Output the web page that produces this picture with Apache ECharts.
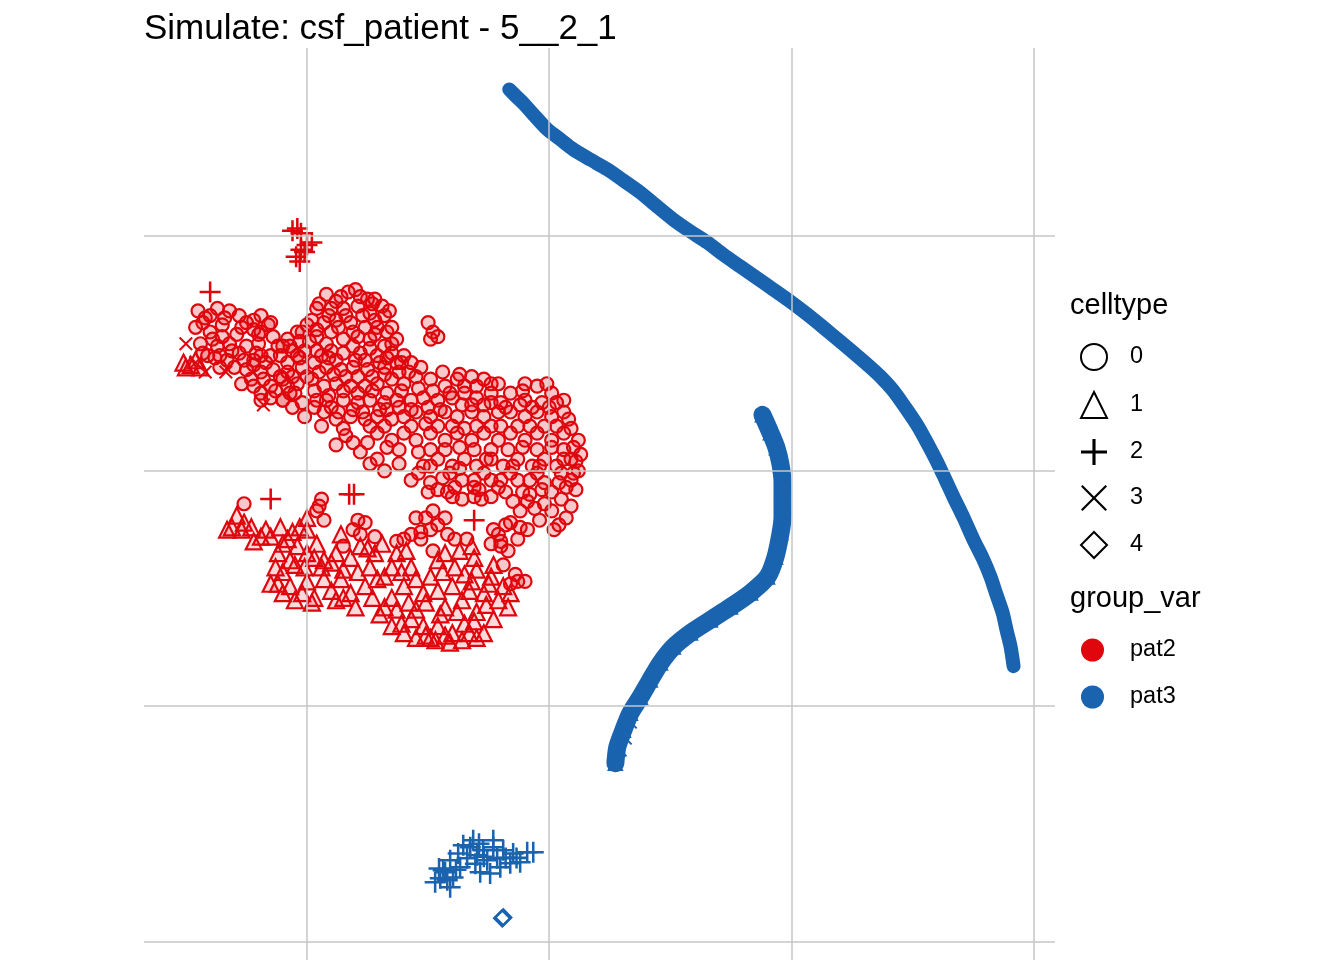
<!DOCTYPE html>
<html>
<head>
<meta charset="utf-8">
<title>csf_patient</title>
<script src="https://cdn.jsdelivr.net/npm/echarts@6/dist/echarts.min.js"></script>
<style>
  html, body { margin: 0; padding: 0; background: #fff; }
  #chart { width: 1344px; height: 960px; }
</style>
</head>
<body>
<div id="chart"></div>
<script>
// gridline positions (axis text is blank in the original)
var xGridLines = [0, 10, 20, 30]
var yGridLines = [0, 10, 20, 30]

var celltypes = ['0', '1', '2', '3', '4']
var groups = ['pat2', 'pat3']

// pat2, celltype 0 (open circles)
var pat2_type0 = [
  [-4.5,26.8],[-4.3,26.3],[-3.7,26.9],[-3.2,26.8],[-2.8,26.6],[-2.5,26.3],[-1.9,26.6],[-1.5,26.3],[-1.9,25.9],[-1.4,25.7],
  [-4.0,25.9],[-3.5,25.7],[-2.9,25.8],[-4.4,25.4],[-3.7,25.3],[-3.1,25.1],[-2.5,25.3],[-2.1,25.0],[-4.1,24.9],[-3.3,24.7],
  [-2.6,24.7],[-1.9,24.9],[-1.7,24.6],[-1.1,24.9],[-1.2,25.3],[-0.8,25.6],[-0.4,25.9],[-0.6,25.1],[-2.5,24.3],[-1.9,24.2],
  [-2.7,23.7],[-1.8,23.9],[-1.5,23.6],[-1.1,24.0],[-0.8,23.6],[-1.0,23.0],[-0.6,22.7],[-1.5,23.1],[-1.9,23.3],[-1.9,23.0],
  [-4.6,26.1],[-1.6,26.2],[-2.0,25.8],[-3.5,26.2],[-4.0,26.6],[-2.2,26.0],[-3.0,24.4],[-2.2,24.5],[-3.6,24.9],[-2.3,23.9],
  [-4.2,26.5],[-3.4,26.5],[-2.7,26.1],[-2.2,26.4],[-3.9,25.6],[-3.2,25.4],[-2.8,25.0],[-2.0,25.4],[-3.8,24.8],[-2.2,24.7],
  [-1.5,24.9],[-1.4,24.3],[-0.8,24.2],[-2.2,23.6],[-1.3,23.4],[-0.7,23.3],[-0.4,24.9],[-0.3,25.5],[-1.0,25.3],[-4.3,25.0],[-3.6,24.4],
  [0.8,27.5],[1.2,27.2],[1.7,27.6],[2.2,27.4],[2.8,27.3],[3.1,27.0],[0.4,26.9],[1.0,26.9],[1.5,26.9],[2.1,27.0],
  [2.6,26.7],[3.2,26.6],[0.2,26.4],[0.7,26.3],[1.2,26.4],[1.8,26.3],[2.4,26.1],[2.9,26.1],[3.5,26.1],[-0.2,25.9],
  [0.4,25.7],[1.0,25.9],[1.5,25.6],[2.1,25.7],[2.6,25.6],[3.2,25.3],[3.7,25.6],[-0.7,25.3],[-0.1,25.1],[0.4,25.1],
  [1.0,25.1],[1.5,25.0],[2.2,25.0],[2.9,24.9],[3.5,25.0],[4.0,24.9],[-0.8,24.6],[-0.2,24.4],[0.3,24.6],[0.8,24.4],
  [1.4,24.3],[1.9,24.4],[2.5,24.3],[3.2,24.4],[3.7,24.6],[4.3,24.6],[4.7,24.4],[-1.0,23.9],[-0.4,23.7],[0.2,23.9],
  [0.7,23.6],[1.2,23.7],[1.8,23.6],[2.4,23.6],[2.9,23.7],[3.5,23.9],[4.0,23.7],[4.5,24.0],[5.1,23.9],[5.7,23.6],
  [6.2,23.9],[6.8,24.0],[7.3,23.9],[-1.0,23.0],[-0.2,22.9],[0.4,23.0],[1.0,22.7],[1.5,23.0],[2.1,22.9],[2.6,23.0],
  [3.2,22.9],[3.7,23.0],[4.3,23.0],[4.8,23.1],[5.4,23.0],[6.0,23.1],[6.5,23.3],[7.0,23.1],[7.6,23.3],[9.0,23.7],
  [9.5,23.6],[10.1,23.3],[8.4,23.3],[9.0,23.0],[9.7,22.9],[10.3,22.9],[5.0,26.3],[5.2,25.9],[5.1,25.6],[5.4,25.7],
  [0.0,26.2],[1.6,26.6],[2.7,27.1],[0.9,24.8],[2.0,24.7],[3.0,24.6],[4.2,24.2],[0.0,24.0],[1.6,24.0],[2.7,24.0],
  [3.8,24.2],[5.6,24.2],[6.5,23.6],[7.9,23.7],[8.0,22.9],[1.9,22.6],[3.0,22.6],[5.0,22.7],[6.4,22.8],[7.3,22.8],[0.3,22.7],
  [0.5,27.1],[1.4,27.4],[2.0,27.7],[2.5,27.3],[3.4,26.8],[0.9,26.6],[2.3,26.6],[2.8,26.4],[0.4,26.0],[1.3,26.1],
  [1.9,25.9],[2.8,25.8],[3.3,25.9],[0.1,25.5],[0.8,25.4],[1.9,25.3],[2.6,25.2],[3.5,25.4],[-0.3,24.8],[0.6,24.9],
  [1.2,24.7],[2.4,24.7],[3.3,24.8],[3.9,24.6],[0.5,24.2],[1.1,24.1],[2.1,24.0],[3.2,24.1],[-0.6,24.0],[-0.5,23.3],
  [0.3,23.4],[0.9,23.2],[1.5,23.4],[2.1,23.3],[2.7,23.4],[3.3,23.3],[3.9,23.4],[4.6,23.5],[5.2,23.4],[5.9,23.3],
  [6.3,24.1],[7.0,23.6],[7.6,23.7],[8.9,23.4],[9.9,23.7],[10.6,23.0],[8.8,22.8],[0.8,23.0],[1.3,22.5],[2.3,22.5],
  [3.3,22.6],[4.3,22.6],[5.5,22.6],[6.8,22.8],[7.6,22.9],[8.2,22.7],[9.3,22.7],[10.0,22.7],[10.8,22.2],
  [-0.1,22.3],[0.7,22.5],[1.2,22.2],[1.8,22.3],[2.4,22.2],[2.9,22.3],[3.5,22.2],[4.0,22.3],[4.5,22.5],[5.1,22.3],
  [5.7,22.5],[6.2,22.3],[6.8,22.5],[7.3,22.3],[7.9,22.5],[8.4,22.5],[9.0,22.3],[9.5,22.5],[10.1,22.3],[10.6,22.5],
  [0.6,21.9],[1.2,21.1],[2.9,21.6],[3.5,21.3],[4.0,21.6],[4.5,21.3],[5.1,21.6],[5.7,21.3],[6.2,21.6],[6.8,21.3],
  [7.3,21.6],[7.9,21.3],[8.4,21.6],[9.0,21.3],[9.5,21.6],[10.1,21.3],[10.6,21.6],[11.0,21.0],[1.9,21.2],[2.2,20.8],
  [2.9,20.5],[3.2,20.0],[4.3,19.6],[4.8,20.2],[5.4,20.5],[6.0,20.2],[6.5,20.5],[7.0,20.2],[7.6,20.5],[8.1,20.2],
  [8.7,20.5],[9.3,20.2],[9.8,20.5],[10.3,20.2],[10.9,20.5],[5.1,19.5],[6.4,19.6],[7.6,19.6],[8.7,19.6],[9.8,19.5],
  [10.9,19.6],[5.0,19.1],[6.4,18.8],[7.6,18.9],[8.8,18.3],[10.2,17.5],[10.7,18.0],[9.8,18.6],[10.5,18.8],[11.1,19.2],
  [9.6,17.9],[7.1,19.2],[5.8,19.1],[11.3,20.7],[11.2,20.0],
  [3.8,22.7],[4.9,22.0],[6.0,21.9],[7.0,21.9],[8.0,21.9],[9.2,21.9],[10.3,21.9],[3.3,21.0],[4.6,20.8],[5.7,20.9],
  [6.9,20.9],[8.3,20.9],[9.5,20.9],[10.6,20.9],[5.9,19.9],[7.3,19.9],[8.4,19.9],[9.5,19.9],[10.5,19.9],[8.2,19.1],
  [9.2,19.0],[10.1,19.1],[9.1,18.7],[6.9,18.9],
  [1.5,21.8],[2.6,21.9],[3.2,21.9],[4.3,21.9],[5.4,21.9],[6.5,21.8],[7.6,21.9],[8.7,21.9],[9.8,21.9],[10.9,21.8],
  [1.6,21.5],[2.5,21.2],[3.8,20.9],[5.1,20.9],[6.3,21.0],[7.6,20.9],[8.9,21.0],[10.1,21.0],[11.2,21.3],[2.6,20.3],
  [3.8,20.3],[5.1,20.2],[6.3,20.1],[7.4,20.5],[8.5,20.2],[9.6,20.2],[10.6,20.5],[11.1,20.4],[4.6,19.9],[5.6,19.7],
  [6.9,19.6],[8.0,19.6],[9.2,19.6],[10.4,19.5],[11.0,19.9],[5.4,19.2],[6.1,19.3],[6.9,19.3],[7.9,19.3],[8.9,19.1],
  [9.7,19.2],[10.7,19.3],[8.5,18.7],[9.4,18.4],[10.1,18.3],[10.4,17.7],[10.9,18.5],[6.0,18.9],[7.2,18.8],
  [-2.6,18.6],[0.6,18.8],[0.4,18.3],[0.7,17.9],[2.4,17.8],[1.9,17.5],[2.8,17.2],[1.5,16.8],[4.5,18.0],[5.2,18.3],
  [5.7,18.0],[5.1,17.5],[4.7,17.4],[4.0,17.1],[6.1,17.1],[6.6,17.1],[7.7,17.5],[8.4,17.8],[9.1,17.5],[8.7,17.1],
  [8.0,16.8],[7.6,16.9],[8.1,16.0],[8.6,15.6],[9.0,15.3],[8.4,15.2],[4.7,17.1],[5.2,16.6],
  [0.5,18.5],[2.1,17.9],[2.2,17.3],[4.9,18.0],[5.4,17.7],[4.3,17.3],[5.8,17.3],[7.9,17.3],[8.2,17.7],[8.8,17.6],
  [8.3,16.6],[8.0,17.0],[8.7,15.3],[3.7,17.0]
]

// pat2, celltype 1 (open triangles)
var pat2_type1 = [
  [-3.1,17.6],[-2.6,17.8],[-2.7,17.5],[-2.3,17.6],[-1.9,17.2],[-1.5,17.2],[-1.1,17.6],[-0.8,17.1],[-0.4,16.8],[-1.2,16.5],
  [-0.7,16.2],[0.0,17.5],[0.0,18.0],[0.4,16.9],[0.3,16.3],[-0.1,15.9],[-1.0,15.7],[-1.2,15.2],[-0.7,15.1],[-0.2,14.8],
  [0.3,14.6],[0.7,15.4],[1.0,16.1],[0.7,16.2],[1.5,15.8],[1.8,16.3],[2.2,16.8],[2.8,16.5],[2.1,15.7],[1.5,14.6],
  [2.4,15.1],[2.9,15.4],[3.5,15.9],[3.7,16.5],[4.1,16.6],[4.3,15.9],[4.0,15.1],[3.5,14.6],[3.2,14.2],[3.7,14.1],
  [4.3,13.7],[3.5,13.4],[4.0,13.1],[4.8,13.4],[4.5,14.1],[4.8,14.8],[5.1,15.5],[5.4,16.2],[5.7,16.5],[6.1,15.9],
  [6.0,15.1],[5.7,14.2],[5.4,13.4],[6.0,13.1],[6.5,13.5],[6.4,14.5],[6.8,15.3],[6.9,16.3],[6.8,16.8],[7.0,15.8],
  [7.3,14.8],[7.0,14.0],[7.7,13.7],[7.9,14.5],[8.1,15.1],[7.6,15.5],[8.3,14.2],[5.1,12.9],[6.4,12.8],[7.3,13.1],
  [-1.5,15.2],[-1.0,14.8],[-0.5,14.5],[0.2,14.4],[1.2,14.5],[1.8,14.8],[-3.3,17.5],[-2.9,18.1],[1.4,17.3],
  [2.6,15.9],[3.1,16.9],[4.5,12.9],[3.0,13.9],[5.9,12.7],[6.7,13.1],[2.0,14.2],[1.0,14.9],[-2.2,17.0],[-0.3,17.6],
  [-1.7,17.5],[-0.6,17.4],[-1.0,16.9],[0.0,16.5],[-0.5,16.0],[-1.3,15.9],[0.0,15.3],[0.6,15.9],[1.2,16.5],[1.4,15.4],
  [2.5,16.7],[3.2,15.5],[2.7,14.6],[3.9,15.7],[4.5,15.4],[4.2,14.4],[3.9,13.5],[4.9,14.4],[5.4,14.9],[5.6,15.7],
  [6.3,16.6],[6.5,15.6],[6.7,14.9],[6.2,14.0],[5.5,13.9],[4.9,13.0],[5.7,13.0],[6.9,13.6],[7.4,14.3],[7.5,15.2],
  [7.7,16.0],[8.4,14.8],[7.0,12.9],[5.3,12.8],
  [-5.1,24.6],[-4.8,24.5],[-4.6,24.7],[-5.0,24.4],[-4.4,24.4]
]

// pat2, celltype 2 (plus)
var pat2_type2 = [
  [-0.4,30.3],[-0.25,30.1],[0.0,29.6],[-0.25,29.4],[-0.45,29.1],[-0.1,29.3],[-0.6,30.2],[0.2,29.7],[-0.3,28.9],
  [-4.0,27.6],[-1.5,18.8],[1.74,19.0],[1.94,19.0],[6.9,17.9]
]

// pat2, celltype 3 (cross)
var pat2_type3 = [[-5.0,25.4],[-4.2,24.2],[-1.8,22.8],[-3.35,24.2],[-4.6,24.6]]

// pat3, celltype 0: the long trajectory
var pat3_type0 = [
  [8.35,36.21],[8.64,35.91],[8.93,35.62],[9.42,35.06],[9.92,34.51],[10.45,34.09],[10.99,33.66],[11.69,33.23],[12.40,32.81],[13.06,32.34],
  [13.76,31.83],[14.46,31.23],[15.12,30.68],[15.83,30.17],[16.53,29.70],[17.19,29.19],[17.89,28.68],[18.60,28.17],[19.26,27.70],[19.96,27.19],
  [20.66,26.64],[21.32,26.09],[22.02,25.49],[22.56,25.02],[23.14,24.51],[23.68,24.00],[24.21,23.40],[24.71,22.68],[25.21,21.91],[25.62,21.15],
  [26.03,20.34],[26.36,19.62],[26.69,18.89],[27.11,18.00],[27.52,17.06],[27.89,16.30],[28.22,15.49],[28.47,14.72],[28.72,13.96],[28.88,13.23],
  [29.05,12.51],[29.17,11.70]
]

// pat3, celltype 1: the S-shaped trajectory
var pat3_type1 = [
  [18.80,22.38],[19.13,21.62],[19.38,20.98],[19.55,20.26],[19.63,19.49],[19.63,18.77],[19.63,18.04],[19.55,17.36],[19.34,16.34],[19.01,15.49],
  [18.31,14.81],[17.48,14.21],[16.65,13.66],[15.83,13.11],[15.12,12.51],[14.59,11.83],[14.17,11.11],[13.76,10.38],[13.35,9.70],[13.06,8.98],
  [12.81,8.26],[12.73,7.57]
]

// pat3, celltype 2 (plus)
var pat3_type2 = [
  [5.29,2.51],[5.62,3.02],[5.91,3.45],[6.24,3.74],[6.74,4.00],[7.27,3.87],[7.69,4.00],[8.10,3.87],[8.51,3.74],[9.09,3.79],
  [9.34,3.79],[5.91,2.30],[5.79,2.60],[7.56,2.89],[7.15,2.94],[7.98,3.15],[8.39,3.32],[8.80,3.36],[6.61,3.53],[7.02,3.66],
  [6.32,3.15],[6.03,2.72],[7.44,3.45],[7.85,3.53],[6.86,4.30],[7.69,4.30],[6.45,4.09],[5.70,2.94],[5.50,2.68],
  [6.95,3.30],[7.30,3.60],[8.20,3.55],[6.15,3.05],[5.45,3.10],[8.65,3.55],[7.10,4.15]
]

// pat3, celltype 3 (cross)
var pat3_type3 = [[12.73,7.62],[12.93,8.13],[13.14,8.64],[13.35,9.32]]

// pat3, celltype 4 (diamond)
var pat3_type4 = [[8.06,0.98],[8.10,1.02]]

var RED = '#E0060E'
var BLUE = '#1A63AF'
var FONT = "'Liberation Sans', Arial, Helvetica, sans-serif"
var PLUS = 'path://M0,4.4H10V5.6H0Z M4.4,0H5.6V10H4.4Z'
var CROSS = 'path://M1,0L5,4L9,0L10,1L6,5L10,9L9,10L5,6L1,10L0,9L4,5L0,1Z'
var CROSS_THIN = 'path://M0.6,0L5,4.4L9.4,0L10,0.6L5.6,5L10,9.4L9.4,10L5,5.6L0.6,10L0,9.4L4.4,5L0,0.6Z'

var shapeIcons = ['circle', 'triangle', PLUS, CROSS_THIN, 'diamond']

function openStyle(color, width) {
    return {color: 'rgba(0,0,0,0)', borderColor: color, borderWidth: width || 2, opacity: 1}
}

function points(name, data, symbol, size, style) {
    return {
        name: name,
        type: 'scatter',
        data: data,
        symbol: symbol,
        symbolSize: size,
        itemStyle: style,
        z: 3,
        silent: true,
        animation: false
    }
}

var chart = echarts.init(document.getElementById('chart'), null, {renderer: 'canvas'})

var series = []

// panel gridlines
series.push({
    name: 'grid',
    type: 'scatter',
    data: [],
    z: 1,
    silent: true,
    markLine: {
        silent: true,
        symbol: ['none', 'none'],
        label: {show: false},
        lineStyle: {color: '#C6C6C6', width: 1.5, type: 'solid'},
        animation: false,
        data: xGridLines.map(function (v) { return {xAxis: v} })
            .concat(yGridLines.map(function (v) { return {yAxis: v} }))
    }
})

var redCircle = openStyle(RED, 2.2)
redCircle.color = 'rgba(224,6,14,0.22)'
var redTriangle = openStyle(RED, 2.2)
redTriangle.color = 'rgba(224,6,14,0.15)'
series.push(points('pat2 0', pat2_type0, 'circle', 13, redCircle))
series.push(points('pat2 1', pat2_type1, 'triangle', 16, redTriangle))
series.push(points('pat2 2', pat2_type2, PLUS, 21, {color: RED, opacity: 1}))
series.push(points('pat2 3', pat2_type3, CROSS, 14, {color: RED, opacity: 1}))

// the pat3 trajectories are so dense that the cells form a solid band
series.push({
    name: 'pat3 0',
    type: 'line',
    data: pat3_type0,
    smooth: 0.25,
    symbol: 'circle',
    symbolSize: 11,
    showSymbol: true,
    showAllSymbol: true,
    itemStyle: openStyle(BLUE, 1.6),
    lineStyle: {color: BLUE, width: 14, cap: 'round', join: 'round', opacity: 1},
    z: 3,
    silent: true,
    animation: false
})
series.push({
    name: 'pat3 1',
    type: 'line',
    data: pat3_type1,
    smooth: 0.25,
    symbol: 'triangle',
    symbolSize: 14,
    showSymbol: true,
    showAllSymbol: true,
    itemStyle: openStyle(BLUE, 1.6),
    lineStyle: {color: BLUE, width: 18, cap: 'round', join: 'round', opacity: 1},
    z: 3,
    silent: true,
    animation: false
})
series.push(points('pat3 2', pat3_type2, PLUS, 21, {color: BLUE, opacity: 1}))
series.push(points('pat3 3', pat3_type3, CROSS, 14, {color: BLUE, opacity: 1}))
series.push(points('pat3 4', pat3_type4, 'diamond', 16, openStyle(BLUE, 2.4)))

// empty series that only feed the two legends
function iconStyle(i) {
    var filled = shapeIcons[i] === PLUS || shapeIcons[i] === CROSS_THIN
    return filled ? {color: '#000', borderWidth: 0, opacity: 1}
                  : {color: 'rgba(0,0,0,0)', borderColor: '#000', borderWidth: 2, opacity: 1}
}
celltypes.forEach(function (c, i) {
    series.push({name: c, type: 'scatter', data: [], symbol: shapeIcons[i], itemStyle: iconStyle(i)})
})
groups.forEach(function (g) {
    series.push({name: g, type: 'scatter', data: [], symbol: 'circle',
                 itemStyle: {color: g === 'pat2' ? RED : BLUE, opacity: 1}})
})

var option = {
    backgroundColor: '#fff',
    animation: false,
    title: [{
        text: 'Simulate: csf_patient - 5__2_1',
        left: 144, top: 12, padding: 0,
        textStyle: {fontSize: 35, fontWeight: 'normal', color: '#000', fontFamily: FONT}
    }, {
        text: 'celltype',
        left: 1070, top: 291, padding: 0,
        textStyle: {fontSize: 29, fontWeight: 'normal', color: '#000', fontFamily: FONT}
    }, {
        text: 'group_var',
        left: 1070, top: 584, padding: 0,
        textStyle: {fontSize: 29, fontWeight: 'normal', color: '#000', fontFamily: FONT}
    }],
    grid: {left: 144, right: 289, top: 48, bottom: 0, containLabel: false},
    xAxis: {
        type: 'value', min: -6.73, max: 30.88,
        axisLine: {show: false}, axisTick: {show: false}, axisLabel: {show: false}, splitLine: {show: false}
    },
    yAxis: {
        type: 'value', min: -0.79, max: 37.97,
        axisLine: {show: false}, axisTick: {show: false}, axisLabel: {show: false}, splitLine: {show: false}
    },
    legend: [{
        data: celltypes.map(function (c, i) {
            return {name: c, icon: shapeIcons[i], itemStyle: iconStyle(i)}
        }),
        orient: 'vertical', left: 1080, top: 343, padding: 0,
        itemWidth: 26, itemHeight: 26, itemGap: 20,
        selectedMode: false,
        textStyle: {fontSize: 23.5, color: '#000', fontFamily: FONT, padding: [0, 0, 0, 18]}
    }, {
        data: groups.map(function (g) {
            return {name: g, icon: 'circle',
                    itemStyle: {color: g === 'pat2' ? RED : BLUE, borderWidth: 0, opacity: 1}}
        }),
        orient: 'vertical', left: 1081, top: 638, padding: 0,
        itemWidth: 23, itemHeight: 23, itemGap: 23,
        selectedMode: false,
        textStyle: {fontSize: 23.5, color: '#000', fontFamily: FONT, padding: [0, 0, 0, 21]}
    }],
    series: series
}

chart.setOption(option)
</script>
</body>
</html>
